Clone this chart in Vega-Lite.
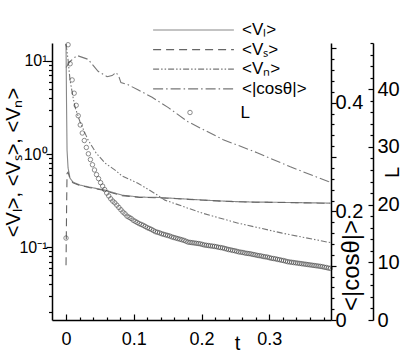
{
  "$schema": "https://vega.github.io/schema/vega-lite/v6.json",
  "width": 279,
  "height": 277,
  "autosize": {"type": "none"},
  "padding": {"left": 52, "top": 43, "right": 76, "bottom": 42},
  "config": {
    "font": "Liberation Sans",
    "view": {"stroke": null},
    "axis": {"domainColor": "black", "domainWidth": 1.5, "tickColor": "black", "tickWidth": 1.2, "tickOpacity": 1, "zindex": 1, "labelColor": "black", "titleColor": "black", "grid": false, "titleFontWeight": "normal", "labelOverlap": false, "labelFlush": false},
    "legend": {"labelFont": "Liberation Sans", "labelColor": "black"}
  },
  "resolve": {"scale": {"y": "independent"}, "axis": {"x": "independent", "y": "independent"}},
  "layer": [
    {
      "data": {"values": [
        {"t": 0, "value": 15.2, "s": "<Vₗ>"}, {"t": 0.0007, "value": 3.8, "s": "<Vₗ>"}, {"t": 0.0015, "value": 1.1, "s": "<Vₗ>"},
        {"t": 0.003, "value": 0.71, "s": "<Vₗ>"}, {"t": 0.0059, "value": 0.55, "s": "<Vₗ>"}, {"t": 0.0103, "value": 0.5, "s": "<Vₗ>"},
        {"t": 0.0207, "value": 0.464, "s": "<Vₗ>"}, {"t": 0.0355, "value": 0.44, "s": "<Vₗ>"}, {"t": 0.0576, "value": 0.41, "s": "<Vₗ>"},
        {"t": 0.07, "value": 0.385, "s": "<Vₗ>"}, {"t": 0.0827, "value": 0.362, "s": "<Vₗ>"}, {"t": 0.109, "value": 0.345, "s": "<Vₗ>"},
        {"t": 0.1315, "value": 0.343, "s": "<Vₗ>"}, {"t": 0.155, "value": 0.336, "s": "<Vₗ>"}, {"t": 0.18, "value": 0.328, "s": "<Vₗ>"},
        {"t": 0.205, "value": 0.32, "s": "<Vₗ>"}, {"t": 0.23, "value": 0.313, "s": "<Vₗ>"}, {"t": 0.254, "value": 0.308, "s": "<Vₗ>"},
        {"t": 0.279, "value": 0.305, "s": "<Vₗ>"}, {"t": 0.304, "value": 0.304, "s": "<Vₗ>"}, {"t": 0.328, "value": 0.302, "s": "<Vₗ>"},
        {"t": 0.355, "value": 0.3, "s": "<Vₗ>"}, {"t": 0.39, "value": 0.297, "s": "<Vₗ>"},
        {"t": 0, "value": 0.064, "s": "<Vₛ>"}, {"t": 0.0008, "value": 0.25, "s": "<Vₛ>"}, {"t": 0.0015, "value": 0.62, "s": "<Vₛ>"},
        {"t": 0.003, "value": 0.64, "s": "<Vₛ>"}, {"t": 0.0059, "value": 0.54, "s": "<Vₛ>"}, {"t": 0.0103, "value": 0.49, "s": "<Vₛ>"},
        {"t": 0.0207, "value": 0.46, "s": "<Vₛ>"}, {"t": 0.0355, "value": 0.435, "s": "<Vₛ>"}, {"t": 0.0576, "value": 0.405, "s": "<Vₛ>"},
        {"t": 0.07, "value": 0.38, "s": "<Vₛ>"}, {"t": 0.0827, "value": 0.358, "s": "<Vₛ>"}, {"t": 0.109, "value": 0.342, "s": "<Vₛ>"},
        {"t": 0.1315, "value": 0.34, "s": "<Vₛ>"}, {"t": 0.155, "value": 0.334, "s": "<Vₛ>"}, {"t": 0.18, "value": 0.326, "s": "<Vₛ>"},
        {"t": 0.205, "value": 0.319, "s": "<Vₛ>"}, {"t": 0.23, "value": 0.312, "s": "<Vₛ>"}, {"t": 0.254, "value": 0.307, "s": "<Vₛ>"},
        {"t": 0.279, "value": 0.304, "s": "<Vₛ>"}, {"t": 0.304, "value": 0.303, "s": "<Vₛ>"}, {"t": 0.328, "value": 0.301, "s": "<Vₛ>"},
        {"t": 0.355, "value": 0.299, "s": "<Vₛ>"}, {"t": 0.39, "value": 0.296, "s": "<Vₛ>"},
        {"t": 0, "value": 15.2, "s": "<Vₙ>"}, {"t": 0.003, "value": 10.3, "s": "<Vₙ>"}, {"t": 0.0059, "value": 6.25, "s": "<Vₙ>"},
        {"t": 0.0103, "value": 4.1, "s": "<Vₙ>"}, {"t": 0.0133, "value": 3.2, "s": "<Vₙ>"}, {"t": 0.0207, "value": 2.21, "s": "<Vₙ>"},
        {"t": 0.0325, "value": 1.42, "s": "<Vₙ>"}, {"t": 0.0443, "value": 1.03, "s": "<Vₙ>"}, {"t": 0.0576, "value": 0.8, "s": "<Vₙ>"},
        {"t": 0.0724, "value": 0.673, "s": "<Vₙ>"}, {"t": 0.0827, "value": 0.58, "s": "<Vₙ>"}, {"t": 0.106, "value": 0.487, "s": "<Vₙ>"},
        {"t": 0.1315, "value": 0.376, "s": "<Vₙ>"}, {"t": 0.146, "value": 0.32, "s": "<Vₙ>"}, {"t": 0.201, "value": 0.232, "s": "<Vₙ>"},
        {"t": 0.254, "value": 0.181, "s": "<Vₙ>"}, {"t": 0.319, "value": 0.1415, "s": "<Vₙ>"}, {"t": 0.387, "value": 0.113, "s": "<Vₙ>"},
        {"t": 0.39, "value": 0.112, "s": "<Vₙ>"}
      ]},
      "resolve": {"axis": {"x": "independent", "y": "independent"}},
      "layer": [
        {
          "mark": {"type": "line", "strokeWidth": 1.1},
          "encoding": {
            "x": {"field": "t", "type": "quantitative", "scale": {"domain": [-0.0207, 0.391], "nice": false, "zero": false},
              "axis": {"orient": "bottom", "values": [0, 0.1, 0.2, 0.3], "format": "~g", "ticks": true, "tickColor": "black", "tickWidth": 1.2, "zindex": 1, "tickSize": -6, "labelPadding": 16, "labelFontSize": 18, "title": "t", "titleFontSize": 20, "titleX": 185, "titleY": 23, "titleAlign": "center", "titleBaseline": "middle", "titleAngle": 0}},
            "y": {"field": "value", "type": "quantitative", "scale": {"type": "log", "domain": [0.0165, 15.6], "nice": false},
              "axis": {"orient": "left", "values": [0.1, 1, 10], "labelExpr": "datum.value == 10 ? '10¹' : datum.value == 1 ? '10⁰' : '10⁻¹'", "ticks": true, "tickColor": "black", "tickWidth": 1.2, "zindex": 1, "tickSize": 6, "labelPadding": -1, "labelFontSize": 16, "title": "<Vₗ>, <Vₛ>, <Vₙ>", "titleFontSize": 20, "titleAngle": 270, "titleX": -39, "titleY": 119, "titleAlign": "center", "titleBaseline": "middle"}},
            "strokeDash": {"field": "s", "type": "nominal",
              "scale": {"domain": ["<Vₗ>", "<Vₛ>", "<Vₙ>", "<|cosθ|>"], "range": [[1, 0], [8, 5], [6, 2, 1.5, 2, 1.5, 2], [10, 3, 1.5, 3]]},
              "legend": {"orient": "none", "legendX": 133, "legendY": -21.5, "title": null, "symbolType": "M-8,0H8", "symbolSize": 102, "labelFontSize": 17, "labelOffset": 40, "rowPadding": 1.6, "symbolStrokeWidth": 1.2, "padding": 0}},
            "color": {"field": "s", "type": "nominal",
              "scale": {"domain": ["<Vₗ>", "<Vₛ>", "<Vₙ>", "<|cosθ|>"], "range": ["#888888", "#666666", "#777777", "#777777"]}}
          }
        },
        {
          "mark": {"type": "line", "opacity": 0},
          "encoding": {
            "x": {"field": "t", "type": "quantitative", "scale": {"domain": [-0.0207, 0.391], "nice": false, "zero": false},
              "axis": {"orient": "bottom", "values": [0.02, 0.04, 0.06, 0.08, 0.12, 0.14, 0.16, 0.18, 0.22, 0.24, 0.26, 0.28, 0.32, 0.34, 0.36, 0.38], "ticks": true, "tickColor": "black", "tickWidth": 1.2, "zindex": 1, "tickSize": -3, "labels": false, "domain": false, "title": null}},
            "y": {"field": "value", "type": "quantitative", "scale": {"type": "log", "domain": [0.0165, 15.6], "nice": false},
              "axis": {"orient": "left", "values": [0.02, 0.03, 0.04, 0.05, 0.06, 0.07, 0.08, 0.09, 0.2, 0.3, 0.4, 0.5, 0.6, 0.7, 0.8, 0.9, 2, 3, 4, 5, 6, 7, 8, 9], "ticks": true, "tickColor": "black", "tickWidth": 1.2, "zindex": 1, "tickSize": 3.5, "labels": false, "domain": false, "title": null}}
          }
        }
      ]
    },
    {
      "data": {"values": [
        {"t": 0, "c": 0.465, "s": "<|cosθ|>"}, {"t": 0.0059, "c": 0.476, "s": "<|cosθ|>"}, {"t": 0.0162, "c": 0.487, "s": "<|cosθ|>"},
        {"t": 0.0325, "c": 0.48, "s": "<|cosθ|>"}, {"t": 0.0473, "c": 0.458, "s": "<|cosθ|>"}, {"t": 0.0606, "c": 0.448, "s": "<|cosθ|>"},
        {"t": 0.068, "c": 0.45, "s": "<|cosθ|>"}, {"t": 0.0739, "c": 0.456, "s": "<|cosθ|>"}, {"t": 0.078, "c": 0.448, "s": "<|cosθ|>"},
        {"t": 0.081, "c": 0.437, "s": "<|cosθ|>"}, {"t": 0.09, "c": 0.434, "s": "<|cosθ|>"}, {"t": 0.106, "c": 0.424, "s": "<|cosθ|>"},
        {"t": 0.127, "c": 0.41, "s": "<|cosθ|>"}, {"t": 0.151, "c": 0.391, "s": "<|cosθ|>"}, {"t": 0.18, "c": 0.365, "s": "<|cosθ|>"},
        {"t": 0.232, "c": 0.332, "s": "<|cosθ|>"}, {"t": 0.282, "c": 0.308, "s": "<|cosθ|>"}, {"t": 0.331, "c": 0.282, "s": "<|cosθ|>"},
        {"t": 0.387, "c": 0.255, "s": "<|cosθ|>"}, {"t": 0.39, "c": 0.254, "s": "<|cosθ|>"}
      ]},
      "resolve": {"axis": {"x": "independent", "y": "independent"}},
      "layer": [
        {
          "mark": {"type": "line", "strokeWidth": 1.1},
          "encoding": {
            "x": {"field": "t", "type": "quantitative", "scale": {"domain": [-0.0207, 0.391], "nice": false, "zero": false}, "axis": null},
            "y": {"field": "c", "type": "quantitative", "scale": {"domain": [0, 0.51], "nice": false},
              "axis": {"orient": "right", "values": [0, 0.1, 0.2, 0.3, 0.4, 0.5], "labelExpr": "datum.value == 0 ? '0' : datum.value == 0.2 ? '0.2' : datum.value == 0.4 ? '0.4' : ''", "ticks": true, "tickColor": "black", "tickWidth": 1.2, "zindex": 1, "tickSize": 5, "labelPadding": -1, "labelFontSize": 20, "title": "<|cosθ|>", "titleFontSize": 24, "titleAngle": 270, "titleX": 20, "titleY": 222, "titleAlign": "center", "titleBaseline": "middle"}},
            "strokeDash": {"field": "s", "type": "nominal", "scale": {"domain": ["<Vₗ>", "<Vₛ>", "<Vₙ>", "<|cosθ|>"], "range": [[1, 0], [8, 5], [6, 2, 1.5, 2, 1.5, 2], [10, 3, 1.5, 3]]}},
            "color": {"field": "s", "type": "nominal", "scale": {"domain": ["<Vₗ>", "<Vₛ>", "<Vₙ>", "<|cosθ|>"], "range": ["#888888", "#666666", "#777777", "#777777"]}}
          }
        },
        {
          "mark": {"type": "line", "opacity": 0},
          "encoding": {
            "x": {"field": "t", "type": "quantitative", "scale": {"domain": [-0.0207, 0.391], "nice": false, "zero": false}, "axis": null},
            "y": {"field": "c", "type": "quantitative", "scale": {"domain": [0, 0.51], "nice": false},
              "axis": {"orient": "right", "values": [0.02, 0.04, 0.06, 0.08, 0.12, 0.14, 0.16, 0.18, 0.22, 0.24, 0.26, 0.28, 0.32, 0.34, 0.36, 0.38, 0.42, 0.44, 0.46, 0.48], "ticks": true, "tickColor": "black", "tickWidth": 1.2, "zindex": 1, "tickSize": 3, "labels": false, "domain": false, "title": null}}
          }
        }
      ]
    },
    {
      "data": {"values": [
        {"t": 0, "L": 14.2, "n": "L"}, {"t": 0.003, "L": 47.7, "n": "L"}, {"t": 0.006, "L": 44.4, "n": "L"}, {"t": 0.009, "L": 41.6, "n": "L"},
        {"t": 0.012, "L": 39.3, "n": "L"}, {"t": 0.015, "L": 37.2, "n": "L"}, {"t": 0.018, "L": 35.4, "n": "L"}, {"t": 0.021, "L": 33.8, "n": "L"},
        {"t": 0.024, "L": 32.4, "n": "L"}, {"t": 0.027, "L": 31.1, "n": "L"}, {"t": 0.03, "L": 29.9, "n": "L"}, {"t": 0.033, "L": 28.8, "n": "L"},
        {"t": 0.036, "L": 27.8, "n": "L"}, {"t": 0.039, "L": 26.9, "n": "L"}, {"t": 0.042, "L": 26.0, "n": "L"}, {"t": 0.045, "L": 25.2, "n": "L"},
        {"t": 0.048, "L": 24.5, "n": "L"}, {"t": 0.051, "L": 23.8, "n": "L"}, {"t": 0.054, "L": 23.2, "n": "L"}, {"t": 0.057, "L": 22.6, "n": "L"},
        {"t": 0.06, "L": 22.0, "n": "L"}, {"t": 0.063, "L": 21.5, "n": "L"}, {"t": 0.066, "L": 21.0, "n": "L"}, {"t": 0.069, "L": 20.6, "n": "L"},
        {"t": 0.072, "L": 20.3, "n": "L"}, {"t": 0.075, "L": 19.9, "n": "L"}, {"t": 0.078, "L": 19.5, "n": "L"}, {"t": 0.081, "L": 19.1, "n": "L"},
        {"t": 0.084, "L": 18.7, "n": "L"}, {"t": 0.087, "L": 18.4, "n": "L"}, {"t": 0.09, "L": 18.0, "n": "L"}, {"t": 0.093, "L": 17.8, "n": "L"},
        {"t": 0.096, "L": 17.6, "n": "L"}, {"t": 0.099, "L": 17.3, "n": "L"}, {"t": 0.102, "L": 17.1, "n": "L"}, {"t": 0.105, "L": 16.9, "n": "L"},
        {"t": 0.108, "L": 16.7, "n": "L"}, {"t": 0.111, "L": 16.55, "n": "L"}, {"t": 0.114, "L": 16.4, "n": "L"}, {"t": 0.117, "L": 16.2, "n": "L"},
        {"t": 0.12, "L": 16.0, "n": "L"}, {"t": 0.123, "L": 15.85, "n": "L"}, {"t": 0.126, "L": 15.7, "n": "L"}, {"t": 0.129, "L": 15.5, "n": "L"},
        {"t": 0.132, "L": 15.3, "n": "L"}, {"t": 0.135, "L": 15.2, "n": "L"}, {"t": 0.138, "L": 15.1, "n": "L"}, {"t": 0.141, "L": 14.95, "n": "L"},
        {"t": 0.144, "L": 14.85, "n": "L"}, {"t": 0.147, "L": 14.75, "n": "L"}, {"t": 0.15, "L": 14.65, "n": "L"}, {"t": 0.153, "L": 14.55, "n": "L"},
        {"t": 0.156, "L": 14.4, "n": "L"}, {"t": 0.159, "L": 14.3, "n": "L"}, {"t": 0.162, "L": 14.2, "n": "L"}, {"t": 0.165, "L": 14.1, "n": "L"},
        {"t": 0.168, "L": 14.0, "n": "L"}, {"t": 0.171, "L": 13.9, "n": "L"}, {"t": 0.174, "L": 13.8, "n": "L"}, {"t": 0.177, "L": 13.65, "n": "L"},
        {"t": 0.18, "L": 13.5, "n": "L"}, {"t": 0.183, "L": 13.45, "n": "L"}, {"t": 0.186, "L": 13.4, "n": "L"}, {"t": 0.189, "L": 13.35, "n": "L"},
        {"t": 0.192, "L": 13.3, "n": "L"}, {"t": 0.195, "L": 13.25, "n": "L"}, {"t": 0.198, "L": 13.2, "n": "L"}, {"t": 0.201, "L": 13.1, "n": "L"},
        {"t": 0.204, "L": 13.0, "n": "L"}, {"t": 0.207, "L": 12.95, "n": "L"}, {"t": 0.21, "L": 12.9, "n": "L"}, {"t": 0.213, "L": 12.85, "n": "L"},
        {"t": 0.216, "L": 12.8, "n": "L"}, {"t": 0.219, "L": 12.75, "n": "L"}, {"t": 0.222, "L": 12.7, "n": "L"}, {"t": 0.225, "L": 12.6, "n": "L"},
        {"t": 0.228, "L": 12.55, "n": "L"}, {"t": 0.231, "L": 12.5, "n": "L"}, {"t": 0.234, "L": 12.4, "n": "L"}, {"t": 0.237, "L": 12.3, "n": "L"},
        {"t": 0.24, "L": 12.2, "n": "L"}, {"t": 0.243, "L": 12.15, "n": "L"}, {"t": 0.246, "L": 12.05, "n": "L"}, {"t": 0.249, "L": 12.0, "n": "L"},
        {"t": 0.252, "L": 11.9, "n": "L"}, {"t": 0.255, "L": 11.8, "n": "L"}, {"t": 0.258, "L": 11.75, "n": "L"}, {"t": 0.261, "L": 11.7, "n": "L"},
        {"t": 0.264, "L": 11.6, "n": "L"}, {"t": 0.267, "L": 11.55, "n": "L"}, {"t": 0.27, "L": 11.5, "n": "L"}, {"t": 0.273, "L": 11.45, "n": "L"},
        {"t": 0.276, "L": 11.35, "n": "L"}, {"t": 0.279, "L": 11.3, "n": "L"}, {"t": 0.282, "L": 11.2, "n": "L"}, {"t": 0.285, "L": 11.15, "n": "L"},
        {"t": 0.288, "L": 11.1, "n": "L"}, {"t": 0.291, "L": 11.0, "n": "L"}, {"t": 0.294, "L": 10.95, "n": "L"}, {"t": 0.297, "L": 10.9, "n": "L"},
        {"t": 0.3, "L": 10.8, "n": "L"}, {"t": 0.303, "L": 10.7, "n": "L"}, {"t": 0.306, "L": 10.65, "n": "L"}, {"t": 0.309, "L": 10.6, "n": "L"},
        {"t": 0.312, "L": 10.5, "n": "L"}, {"t": 0.315, "L": 10.45, "n": "L"}, {"t": 0.318, "L": 10.35, "n": "L"}, {"t": 0.321, "L": 10.3, "n": "L"},
        {"t": 0.324, "L": 10.2, "n": "L"}, {"t": 0.327, "L": 10.1, "n": "L"}, {"t": 0.33, "L": 10.05, "n": "L"}, {"t": 0.333, "L": 10.0, "n": "L"},
        {"t": 0.336, "L": 9.95, "n": "L"}, {"t": 0.339, "L": 9.9, "n": "L"}, {"t": 0.342, "L": 9.85, "n": "L"}, {"t": 0.345, "L": 9.8, "n": "L"},
        {"t": 0.348, "L": 9.75, "n": "L"}, {"t": 0.351, "L": 9.7, "n": "L"}, {"t": 0.354, "L": 9.65, "n": "L"}, {"t": 0.357, "L": 9.6, "n": "L"},
        {"t": 0.36, "L": 9.55, "n": "L"}, {"t": 0.363, "L": 9.5, "n": "L"}, {"t": 0.366, "L": 9.45, "n": "L"}, {"t": 0.369, "L": 9.4, "n": "L"},
        {"t": 0.372, "L": 9.35, "n": "L"}, {"t": 0.375, "L": 9.3, "n": "L"}, {"t": 0.378, "L": 9.25, "n": "L"}, {"t": 0.381, "L": 9.15, "n": "L"},
        {"t": 0.384, "L": 9.1, "n": "L"}, {"t": 0.387, "L": 9.0, "n": "L"}, {"t": 0.39, "L": 8.95, "n": "L"}
      ]},
      "resolve": {"axis": {"x": "independent", "y": "independent"}},
      "layer": [
        {
          "mark": {"type": "point", "shape": "circle", "filled": false, "size": 20, "strokeWidth": 0.8, "color": "#333333"},
          "encoding": {
            "x": {"field": "t", "type": "quantitative", "scale": {"domain": [-0.0207, 0.391], "nice": false, "zero": false}, "axis": null},
            "y": {"field": "L", "type": "quantitative", "scale": {"domain": [0, 48], "nice": false},
              "axis": {"orient": "right", "offset": 42, "values": [0, 10, 20, 30, 40], "ticks": true, "tickColor": "black", "tickWidth": 1.2, "zindex": 1, "tickSize": -5, "labelPadding": 9, "labelFontSize": 20, "title": "L", "titleFontSize": 20, "titleAngle": 270, "titleX": 19, "titleY": 129, "titleAlign": "center", "titleBaseline": "middle"}},
            "shape": {"field": "n", "type": "nominal", "scale": {"range": ["circle"]},
              "legend": {"orient": "none", "legendX": 129.5, "legendY": 61, "title": null, "labelFontSize": 17, "labelOffset": 42, "symbolSize": 20, "symbolStrokeWidth": 0.8, "symbolFillColor": "transparent", "symbolStrokeColor": "#333333", "padding": 0}}
          }
        },
        {
          "mark": {"type": "point", "opacity": 0},
          "encoding": {
            "x": {"field": "t", "type": "quantitative", "scale": {"domain": [-0.0207, 0.391], "nice": false, "zero": false}, "axis": null},
            "y": {"field": "L", "type": "quantitative", "scale": {"domain": [0, 48], "nice": false},
              "axis": {"orient": "right", "offset": 42, "values": [2, 4, 6, 8, 12, 14, 16, 18, 22, 24, 26, 28, 32, 34, 36, 38, 42, 44, 46, 48], "ticks": true, "tickColor": "black", "tickWidth": 1.2, "zindex": 1, "tickSize": -3, "labels": false, "domain": false, "title": null}}
          }
        }
      ]
    }
  ]
}
